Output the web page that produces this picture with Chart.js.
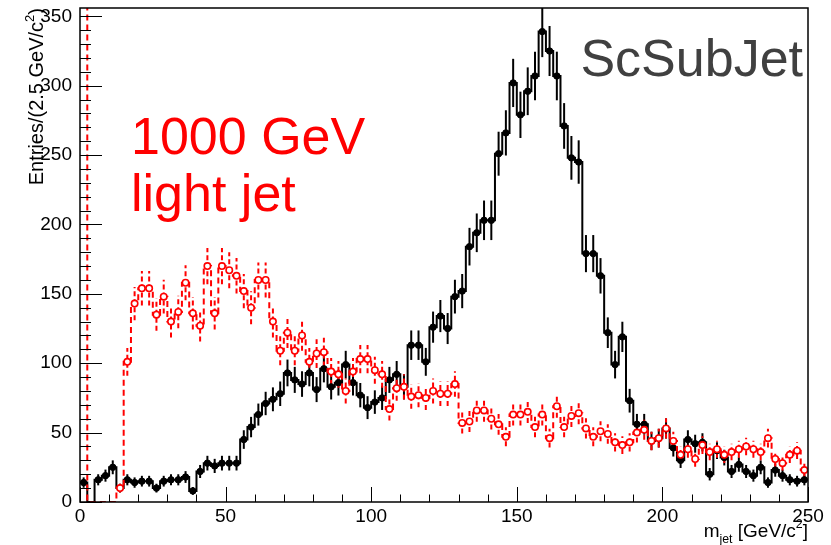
<!DOCTYPE html>
<html>
<head>
<meta charset="utf-8">
<script src="https://cdn.jsdelivr.net/npm/chart.js@4.4.0/dist/chart.umd.min.js"></script>
<style>
  html, body { margin: 0; padding: 0; background: #fff; }
  canvas { display: block; }
</style>
</head>
<body>
<canvas id="chart" width="831" height="545"></canvas>
<script>
// jet mass, 100 bins of 2.5 GeV from 0 to 250
const binWidth = 2.5;
const xMin = 0, xMax = 250, xStep = 50, xMinor = 10;
const yMin = 0, yMax = 356, yStep = 50, yMinor = 10;

// black histogram (entries per bin)
const signalJet = [
  14, 0, 16, 19, 25, 10, 16, 14, 15, 15,
  10, 15, 16, 16, 18, 8, 22, 28, 26, 28,
  28, 28, 45, 54, 63, 71, 74, 78, 93, 88,
  85, 93, 81, 96, 83, 86, 99, 86, 77, 68,
  72, 75, 88, 92, 83, 113, 113, 101, 126, 134,
  125, 148, 152, 184, 194, 203, 203, 251, 266, 302,
  279, 296, 307, 339, 325, 307, 271, 248, 245, 179,
  179, 163, 122, 99, 119, 73, 56, 56, 44, 46,
  53, 39, 30, 45, 42, 43, 20, 37, 32, 22,
  27, 22, 19, 25, 14, 23, 19, 16, 15, 16
];

// red histogram, 1000 GeV light jets (first bin is far above the frame)
const lightJet = [
  800, 0, 0, 0, 0, 10, 101, 143, 154, 154,
  135, 148, 130, 137, 158, 136, 127, 170, 136, 170,
  167, 163, 152, 140, 160, 160, 130, 109, 122, 109,
  120, 101, 107, 108, 94, 92, 80, 94, 103, 103,
  95, 92, 67, 82, 83, 76, 77, 75, 80, 78,
  78, 85, 57, 58, 66, 66, 60, 56, 47, 63,
  63, 65, 54, 63, 46, 69, 54, 62, 64, 53,
  47, 51, 49, 43, 41, 43, 50, 52, 44, 46,
  53, 44, 34, 38, 31, 41, 36, 38, 34, 36,
  38, 40, 38, 36, 46, 31, 28, 34, 37, 23
];

const FONT = "'Liberation Sans', Arial, Helvetica, sans-serif";
const RED = '#ff0000';

function stepPoints(vals) {
  const pts = vals.map((v, i) => ({ x: i * binWidth, y: v }));
  pts.push({ x: vals.length * binWidth, y: vals[vals.length - 1] });
  return pts;
}

function centerPoints(vals) {
  return vals.map((v, i) => ({ x: (i + 0.5) * binWidth, y: v }));
}

// draws a list of text runs, some raised or lowered, ending at x (right aligned)
function drawRuns(ctx, runs, x, y, size) {
  const widths = runs.map(r => {
    ctx.font = (r.sup || r.sub ? size * 0.65 : size) + 'px ' + FONT;
    return ctx.measureText(r.t).width;
  });
  let cx = x - widths.reduce((a, b) => a + b, 0);
  runs.forEach((r, i) => {
    ctx.font = (r.sup || r.sub ? size * 0.65 : size) + 'px ' + FONT;
    const dy = r.sup ? -size * 0.45 : r.sub ? size * 0.3 : 0;
    ctx.fillText(r.t, cx, y + dy);
    cx += widths[i];
  });
}

// statistical error bars, sqrt(N), drawn under the histograms
const errorBars = {
  id: 'errorBars',
  beforeDatasetsDraw(chart) {
    const { ctx, chartArea: a, scales: { x, y } } = chart;
    ctx.save();
    ctx.beginPath();
    ctx.rect(a.left, a.top, a.right - a.left, a.bottom - a.top);
    ctx.clip();
    [[signalJet, '#000', []], [lightJet, RED, [5, 3]]].forEach(([vals, col, dash]) => {
      ctx.strokeStyle = col;
      ctx.lineWidth = 2;
      ctx.setLineDash(dash);
      vals.forEach((v, i) => {
        if (v <= 0) return;
        const e = Math.sqrt(v);
        const px = x.getPixelForValue((i + 0.5) * binWidth);
        ctx.beginPath();
        ctx.moveTo(px, y.getPixelForValue(v - e));
        ctx.lineTo(px, y.getPixelForValue(v + e));
        ctx.stroke();
      });
    });
    ctx.restore();
  }
};

// frame, inner ticks, axis titles and labels
const decor = {
  id: 'decor',
  afterDraw(chart) {
    const { ctx, chartArea: a, scales: { x, y } } = chart;
    ctx.save();
    ctx.strokeStyle = '#000';
    ctx.lineWidth = 1.5;
    ctx.setLineDash([]);
    ctx.strokeRect(a.left, a.top, a.right - a.left, a.bottom - a.top);

    ctx.beginPath();
    for (let v = xMin; v <= xMax; v += xMinor) {
      const px = Math.round(x.getPixelForValue(v)) + 0.5;
      const len = v % xStep === 0 ? 15 : 7.5;
      ctx.moveTo(px, a.bottom);
      ctx.lineTo(px, a.bottom - len);
    }
    for (let v = yMin; v <= 350; v += yMinor) {
      const py = Math.round(y.getPixelForValue(v)) + 0.5;
      const len = v % yStep === 0 ? 22 : 11;
      ctx.moveTo(a.left, py);
      ctx.lineTo(a.left + len, py);
    }
    ctx.lineWidth = 1;
    ctx.stroke();

    ctx.fillStyle = '#000';
    ctx.textBaseline = 'alphabetic';
    ctx.textAlign = 'left';
    // x-axis title
    drawRuns(ctx, [{ t: 'm' }, { t: 'jet', sub: true }, { t: ' [GeV/c' }, { t: '2', sup: true }, { t: ']' }],
      a.right, 537, 19);

    // y-axis title, rotated
    ctx.save();
    ctx.translate(43, a.top);
    ctx.rotate(-Math.PI / 2);
    drawRuns(ctx, [{ t: 'Entries/(2.5 GeV/c' }, { t: '2', sup: true }, { t: ')' }], 0, 0, 20);
    ctx.restore();

    ctx.fillStyle = '#404040';
    ctx.font = '52px ' + FONT;
    ctx.textAlign = 'right';
    ctx.fillText('ScSubJet', 803, 76);

    ctx.fillStyle = RED;
    ctx.textAlign = 'left';
    ctx.fillText('1000 GeV', 131, 154);
    ctx.fillText('light jet', 131, 211);
    ctx.restore();
  }
};

const zeroHidden = ctx => (ctx.raw && ctx.raw.y > 0 ? 3.2 : 0);

new Chart(document.getElementById('chart'), {
  type: 'line',
  data: {
    datasets: [
      {
        data: stepPoints(signalJet),
        borderColor: '#000',
        borderWidth: 2,
        stepped: 'before',
        pointRadius: 0,
        order: 4
      },
      {
        data: centerPoints(signalJet),
        showLine: false,
        pointRadius: zeroHidden,
        pointBackgroundColor: '#000',
        pointBorderColor: '#000',
        pointBorderWidth: 1,
        order: 3
      },
      {
        data: stepPoints(lightJet),
        borderColor: RED,
        borderWidth: 2,
        borderDash: [6, 4],
        stepped: 'before',
        pointRadius: 0,
        order: 2
      },
      {
        data: centerPoints(lightJet),
        showLine: false,
        pointRadius: zeroHidden,
        pointBackgroundColor: '#fff',
        pointBorderColor: RED,
        pointBorderWidth: 1.6,
        order: 1
      }
    ]
  },
  options: {
    responsive: false,
    animation: false,
    layout: { padding: { top: 8, right: 23, left: 0, bottom: 0 } },
    plugins: { legend: { display: false }, tooltip: { enabled: false } },
    scales: {
      x: {
        type: 'linear',
        min: xMin,
        max: xMax,
        afterFit: s => { s.height = 43; s.paddingLeft = 0; s.paddingRight = 0; },
        grid: { display: false, drawTicks: false },
        border: { display: false },
        ticks: { stepSize: xStep, color: '#000', padding: 3, maxRotation: 0, font: { family: FONT, size: 19 } }
      },
      y: {
        type: 'linear',
        min: yMin,
        max: yMax,
        afterFit: s => { s.width = 80; s.paddingTop = 0; s.paddingBottom = 0; },
        grid: { display: false, drawTicks: false },
        border: { display: false },
        ticks: { stepSize: yStep, includeBounds: false, color: '#000', padding: 8, font: { family: FONT, size: 19 } }
      }
    }
  },
  plugins: [errorBars, decor]
});
</script>
</body>
</html>
